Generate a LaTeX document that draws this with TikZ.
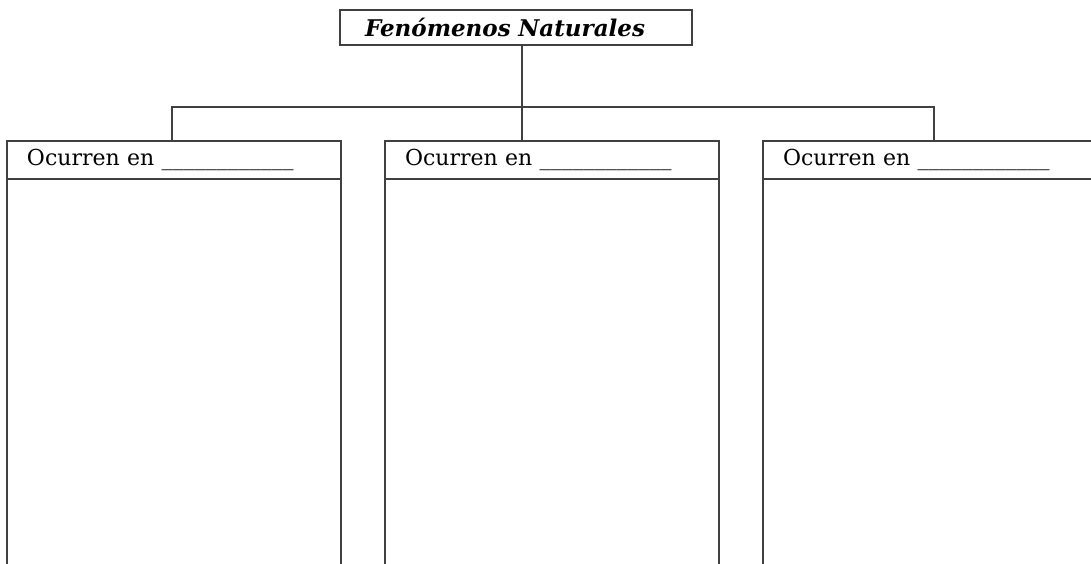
\documentclass[tikz,border=0pt]{standalone}
\usepackage{fontspec}
\setmainfont{DejaVu Serif}
\usetikzlibrary{positioning}
\definecolor{line1}{RGB}{64, 64, 64}

\begin{document}
\begin{tikzpicture}[x=1pt, y=1pt,
    title/.style={rectangle, draw=line1, line width=1.5pt, outer sep=0pt, minimum width=352pt, minimum height=35pt, text width=302pt, align=left, font=\fontsize{23}{26}\selectfont\bfseries\itshape},
    header/.style={rectangle, draw=line1, line width=1.5pt, outer sep=0pt, minimum width=334pt, minimum height=38pt, text width=294pt, align=left, font=\fontsize{22}{25}\selectfont},
    link/.style={draw=line1, line width=1.5pt}]
    \clip (0,0) rectangle (1091,563);
    \node[title] (top) at (516,535.5) {Fenómenos Naturales};
    \node[header] (h1) at (174,403) {Ocurren en \_\_\_\_\_\_\_\_\_\_\_\_};
    \node[header] (h2) at (552,403) {Ocurren en \_\_\_\_\_\_\_\_\_\_\_\_};
    \node[header] (h3) at (930,403) {Ocurren en \_\_\_\_\_\_\_\_\_\_\_\_};
    \coordinate (hub) at (522,456);
    \coordinate (d1) at (172,456);
    \coordinate (d3) at (934,456);
    % tree
    \draw[link] (top.south -| hub) -- (hub);
    \draw[link] (d1 |- h1.north) -- (d1) -- (d3) -- (d3 |- h3.north);
    \draw[link] (hub) -- (hub |- h2.north);
    % open columns
    \foreach \h in {h1, h2, h3} {
        \draw[link] (\h.south west) -- ++(0,-400);
        \draw[link] (\h.south east) -- ++(0,-400);
    }
\end{tikzpicture}
\end{document}
